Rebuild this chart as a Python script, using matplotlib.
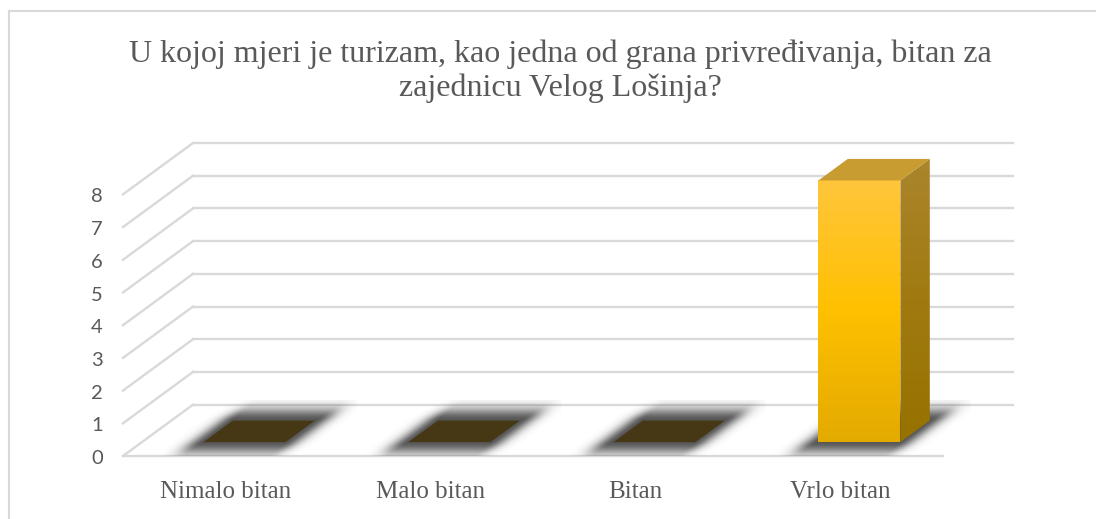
import numpy as np
import matplotlib
matplotlib.use("Agg")
import matplotlib.pyplot as plt
from matplotlib.patches import Polygon
from matplotlib.colors import LinearSegmentedColormap

# data
categories = ["Nimalo bitan", "Malo bitan", "Bitan", "Vrlo bitan"]
values = [0, 0, 0, 8]
y_ticks = [0, 1, 2, 3, 4, 5, 6, 7, 8]
title = "U kojoj mjeri je turizam, kao jedna od grana privređivanja, bitan za\nzajednicu Velog Lošinja?"

# pseudo 3d geometry (depth offset in data units)
DX = 70 / 205
DY = 51 / 32.5
PX_X = 205.0   # pixels per category
PX_D = 60.0    # pixels per unit depth (approx, for shadow blur)
BAR_W = 0.4
D0, D1 = 0.27, 0.69
GRID = "#d9d9d9"
TEXT = "#595959"


def proj(x, y, d):
    return x + d * DX, y + d * DY


def floor_shadow(ax, xl, xr, blur=10.0, strength=0.75):
    # blurred dark shadow on the floor under a bar
    x_lo, x_hi = xl - 0.2, xr + D1 * DX + 0.2
    y_lo, y_hi = D0 * DY - 0.6, D1 * DY + 0.6
    X, Y = np.meshgrid(np.linspace(x_lo, x_hi, 300), np.linspace(y_lo, y_hi, 120))
    d = Y / DY
    u = X - d * DX
    du = np.maximum(np.maximum(xl - u, u - xr), 0) * PX_X
    dd = np.maximum(np.maximum(D0 - d, d - D1), 0) * PX_D
    a = strength * np.exp(-(du ** 2 + dd ** 2) / (2 * blur ** 2))
    rgba = np.zeros(X.shape + (4,))
    rgba[..., :3] = 0.12
    rgba[..., 3] = a
    ax.imshow(rgba, origin="lower", aspect="auto", extent=[x_lo, x_hi, y_lo, y_hi],
              zorder=2, interpolation="bilinear")


fig = plt.figure(figsize=(10.96, 5.19), dpi=100)
ax = fig.add_axes([123 / 1096, 63 / 519, 890 / 1096, 313 / 519])
n = len(categories)
ymax = max(y_ticks)
ax.axis("off")

# back wall gridlines + left wall diagonals
for v in y_ticks:
    bx0, by0 = proj(0, v, 1)
    bx1, by1 = proj(n, v, 1)
    ax.plot([bx0, bx1], [by0, by1], color=GRID, lw=1.7, zorder=1, clip_on=False)
    ax.plot([0, bx0], [v, by0], color=GRID, lw=1.7, zorder=1, clip_on=False)
    ax.text(-0.127, v - 0.08, str(v), ha="center", va="center", fontsize=14.5,
            color=TEXT, family="Lato")
ax.plot([0, n], [0, 0], color=GRID, lw=1.7, zorder=1, clip_on=False)

front_cmap = LinearSegmentedColormap.from_list(
    "front", ["#e3aa00", "#ffc000", "#ffc63c"])
side_cmap = LinearSegmentedColormap.from_list(
    "side", ["#977200", "#a07a10", "#ab852c"])

for i, (cat, val) in enumerate(zip(categories, values)):
    xl = i + 0.5 - BAR_W / 2
    xr = i + 0.5 + BAR_W / 2
    fl = proj(xl, 0, D0)
    fr = proj(xr, 0, D0)
    bl = proj(xl, 0, D1)
    br = proj(xr, 0, D1)
    floor_shadow(ax, xl, xr)
    if val == 0:
        ax.add_patch(Polygon([fl, fr, br, bl], closed=True, facecolor="#463815",
                             edgecolor="none", zorder=3))
    else:
        ftl = proj(xl, val, D0)
        ftr = proj(xr, val, D0)
        btl = proj(xl, val, D1)
        btr = proj(xr, val, D1)
        grad = np.linspace(0, 1, 256).reshape(-1, 1)
        front = Polygon([fl, fr, ftr, ftl], closed=True, facecolor="none",
                        edgecolor="none", zorder=4)
        ax.add_patch(front)
        im = ax.imshow(grad, cmap=front_cmap, origin="lower", aspect="auto",
                       extent=[fl[0], fr[0], fl[1], ftl[1]], zorder=4,
                       interpolation="bilinear")
        im.set_clip_path(front)
        side = Polygon([fr, br, btr, ftr], closed=True, facecolor="none",
                       edgecolor="none", zorder=4)
        ax.add_patch(side)
        im2 = ax.imshow(grad, cmap=side_cmap, origin="lower", aspect="auto",
                        extent=[fr[0], br[0], fr[1], btr[1]], zorder=4,
                        interpolation="bilinear")
        im2.set_clip_path(side)
        ax.add_patch(Polygon([ftl, ftr, btr, btl], closed=True,
                             facecolor="#c89c30", edgecolor="none", zorder=5))
    ax.text(i + 0.5, -1.1, cat, ha="center", va="center", fontsize=18,
            color=TEXT, family="Liberation Serif")

ax.set_xlim(0, n + DX)
ax.set_ylim(0, ymax + DY)

fig.text(0.511, 1 - 71 / 519, title, ha="center", va="center", fontsize=23,
         color=TEXT, family="Liberation Serif", linespacing=1.18)

# chart frame (top and left edges visible)
fig.add_artist(plt.Line2D([8.5 / 1096, 1], [1 - 10.5 / 519] * 2, color=GRID, lw=1.5))
fig.add_artist(plt.Line2D([8.5 / 1096] * 2, [0, 1 - 10.5 / 519], color=GRID, lw=1.5))

fig.savefig("out.png", dpi=100, facecolor="white")
